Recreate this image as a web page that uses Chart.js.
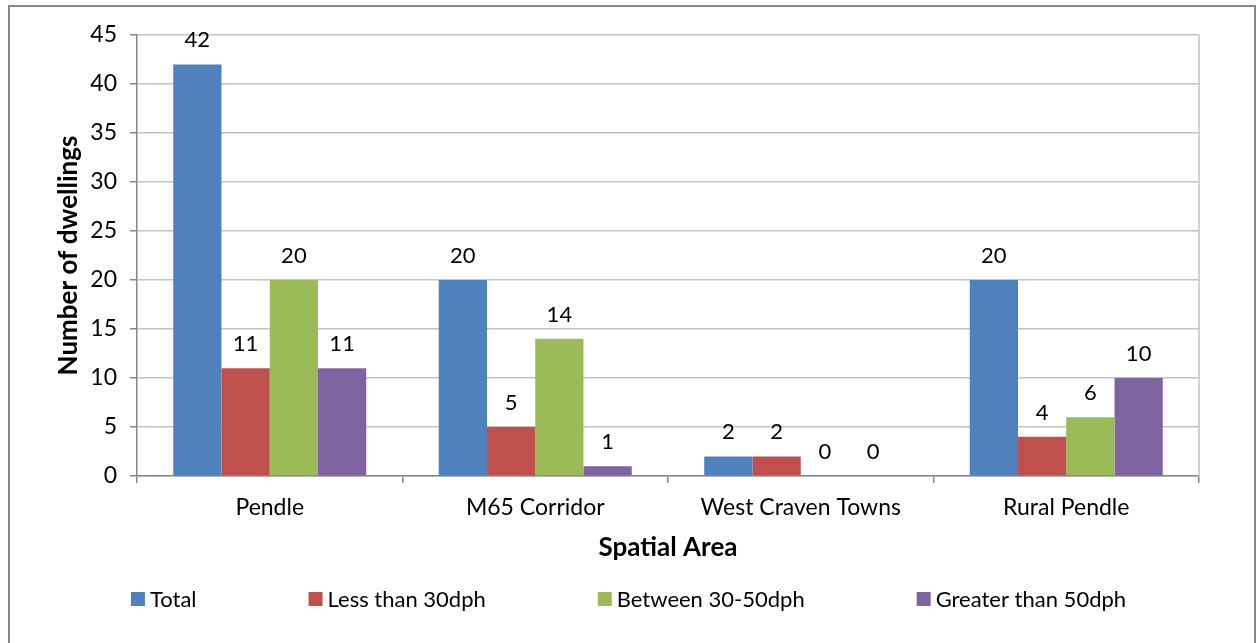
<!DOCTYPE html>
<html>
<head>
<meta charset="utf-8">
<script src="https://cdn.jsdelivr.net/npm/chart.js@4/dist/chart.umd.min.js"></script>
<style>
  html, body { margin: 0; padding: 0; background: #ffffff; overflow: hidden; }
  #wrap { position: relative; width: 1257px; height: 643px; }
  #frame { position: absolute; left: 8px; top: 5px; width: 1248px; height: 700px;
           border: 2px solid #878787; box-sizing: border-box; pointer-events: none; }
  canvas { position: absolute; left: 0; top: 0; }
</style>
</head>
<body>
<div id="wrap">
  <canvas id="chart" width="1257" height="643"></canvas>
  <div id="frame"></div>
</div>
<script>
// Spatial areas along the category axis
const areas = ['Pendle', 'M65 Corridor', 'West Craven Towns', 'Rural Pendle'];

// Dwellings per density band in each area
const totalDwellings = [42, 20, 2, 20];
const lessThan30dph = [11, 5, 2, 4];
const between30and50dph = [20, 14, 0, 6];
const greaterThan50dph = [11, 1, 0, 10];

const seriesNames = ['Total', 'Less than 30dph', 'Between 30-50dph', 'Greater than 50dph'];
const seriesColors = ['#4F81BD', '#C0504D', '#9BBB59', '#8064A2'];

// Value axis range
const yMin = 0;
const yMax = 45;
const yStep = 5;

const FONT = "Lato, 'Carlito', 'Liberation Sans', sans-serif";
const AXIS_GREY = '#868686';
const GRID_GREY = '#C3C3C3';

// Value printed above every bar
const barValueLabels = {
  id: 'barValueLabels',
  afterDatasetsDraw(chart) {
    const ctx = chart.ctx;
    ctx.save();
    ctx.font = `22px ${FONT}`;
    ctx.fillStyle = '#000000';
    ctx.textAlign = 'center';
    ctx.textBaseline = 'middle';
    chart.data.datasets.forEach((ds, di) => {
      const meta = chart.getDatasetMeta(di);
      meta.data.forEach((bar, i) => {
        ctx.fillText(String(ds.data[i]), bar.x, bar.y - 24);
      });
    });
    ctx.restore();
  }
};

// Thin border on the right edge of the plot area
const plotEdge = {
  id: 'plotEdge',
  beforeDatasetsDraw(chart) {
    const { ctx, chartArea } = chart;
    ctx.save();
    ctx.strokeStyle = GRID_GREY;
    ctx.lineWidth = 1.5;
    ctx.beginPath();
    ctx.moveTo(chartArea.right, chartArea.top);
    ctx.lineTo(chartArea.right, chartArea.bottom);
    ctx.stroke();
    ctx.restore();
  }
};

// Single-row legend below the axis title, items evenly spaced
const rowLegend = {
  id: 'rowLegend',
  afterDraw(chart) {
    const ctx = chart.ctx;
    const box = 14, textGap = 5, itemGap = 112;
    const cy = chart.scales.x.bottom + 23;
    ctx.save();
    ctx.font = `22px ${FONT}`;
    ctx.textBaseline = 'middle';
    ctx.textAlign = 'left';
    const items = chart.data.datasets.map(ds => ({
      text: ds.label, color: ds.backgroundColor, w: ctx.measureText(ds.label).width
    }));
    const total = items.reduce((s, it) => s + box + textGap + it.w, 0) + itemGap * (items.length - 1);
    let x = chart.width / 2 - total / 2;
    items.forEach(it => {
      ctx.fillStyle = it.color;
      ctx.fillRect(x, cy - box / 2, box, box);
      ctx.fillStyle = '#000000';
      ctx.fillText(it.text, x + box + textGap, cy + 1);
      x += box + textGap + it.w + itemGap;
    });
    ctx.restore();
  }
};

const seriesData = [totalDwellings, lessThan30dph, between30and50dph, greaterThan50dph];

new Chart(document.getElementById('chart'), {
  type: 'bar',
  data: {
    labels: areas,
    datasets: seriesNames.map((name, i) => ({
      label: name,
      data: seriesData[i],
      backgroundColor: seriesColors[i],
      borderWidth: 0,
      barPercentage: 1.0,
      categoryPercentage: 0.727
    }))
  },
  options: {
    responsive: false,
    animation: false,
    devicePixelRatio: 1,
    layout: { padding: { top: 35, right: 58, bottom: 67, left: 0 } },
    plugins: {
      legend: { display: false },
      tooltip: { enabled: false }
    },
    scales: {
      x: {
        offset: true,
        grid: {
          offset: true,
          drawOnChartArea: false,
          drawTicks: true,
          tickLength: 7,
          tickColor: AXIS_GREY,
          lineWidth: 1.5
        },
        border: { color: AXIS_GREY, width: 1.5 },
        ticks: {
          color: '#000000',
          padding: 11,
          font: { family: FONT, size: 23 }
        },
        title: {
          display: true,
          text: 'Spatial Area',
          color: '#000000',
          font: { family: FONT, size: 26, weight: 'bold' },
          padding: { top: 0, bottom: 13 }
        },
        afterFit(scale) { scale.height = 100; }
      },
      y: {
        min: yMin,
        max: yMax,
        ticks: {
          stepSize: yStep,
          color: '#000000',
          padding: 13,
          font: { family: FONT, size: 23 }
        },
        grid: {
          color: GRID_GREY,
          lineWidth: 1.5,
          tickLength: 7,
          tickColor: AXIS_GREY
        },
        border: { color: AXIS_GREY, width: 1.5 },
        title: {
          display: true,
          text: 'Number of dwellings',
          color: '#000000',
          font: { family: FONT, size: 26, weight: 'bold' },
          padding: { top: 53, bottom: 0 }
        },
        afterFit(scale) { scale.width = 137; }
      }
    }
  },
  plugins: [plotEdge, barValueLabels, rowLegend]
});
</script>
</body>
</html>
